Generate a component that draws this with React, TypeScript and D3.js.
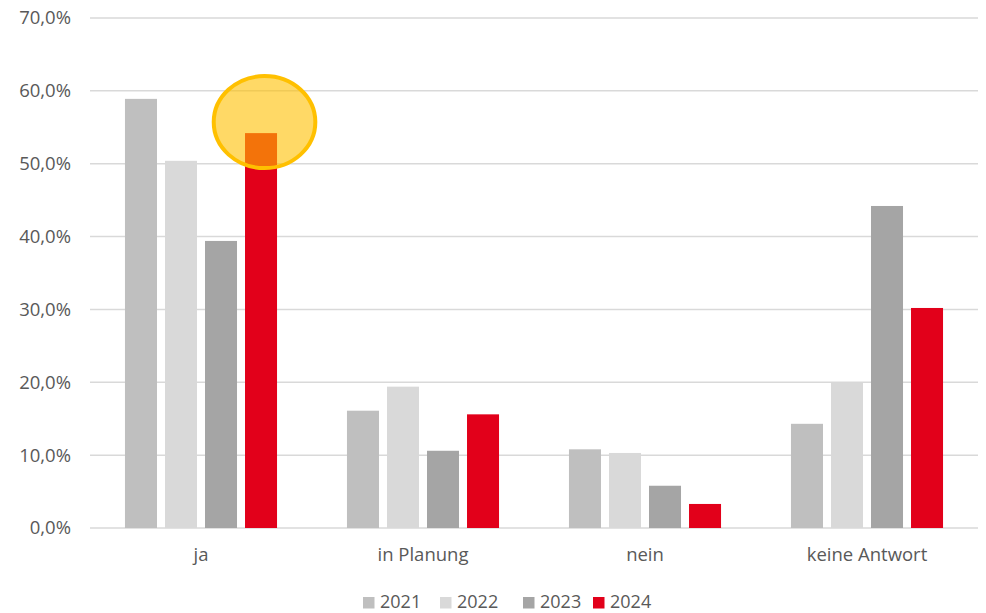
import React from "react";
import * as d3 from "d3";

const categories = ["ja", "in Planung", "nein", "keine Antwort"];
const years = ["2021", "2022", "2023", "2024"];
const values2021 = [58.9, 16.1, 10.8, 14.3];
const values2022 = [50.4, 19.4, 10.3, 20.0];
const values2023 = [39.4, 10.6, 5.8, 44.2];
const values2024 = [54.2, 15.6, 3.3, 30.2];
const yTicks = [0, 10, 20, 30, 40, 50, 60, 70];
const colors = ["#BFBFBF", "#D9D9D9", "#A5A5A5", "#E2001A"];
const series = [values2021, values2022, values2023, values2024];

const W = 986;
const H = 613;
const left = 90;
const right = 978;
const top = 18;
const bottom = 528;
const FONT = "'Open Sans', sans-serif";
const TEXT = "#595959";
const FS = 18.5;

export default function App() {
  const x0 = d3.scaleBand().domain(categories).range([left, right]).paddingInner(0.279).paddingOuter(0.1395);
  const x1 = d3.scaleBand().domain(years).range([0, x0.bandwidth()]).paddingInner(0.2).paddingOuter(0.1);
  const y = d3.scaleLinear().domain([0, 70]).range([bottom, top]);
  const fmt = (v: number) => v.toFixed(1).replace(".", ",") + "%";

  // highlight on ja 2024
  const hx = (x0("ja") as number) + (x1("2024") as number) + x1.bandwidth() / 2 + 3.5;
  const hy = y(values2024[0]) - 11;

  const legendX = [363, 440, 523, 593];

  return (
    <svg width={W} height={H} style={{ position: "absolute", left: 0, top: 0, background: "#fff" }} fontFamily={FONT}>
      {yTicks.map((t) => (
        <g key={t}>
          <line x1={left} x2={right} y1={y(t)} y2={y(t)} stroke="#D9D9D9" strokeWidth={1.5} />
          <text x={71} y={y(t)} dy="0.35em" textAnchor="end" fontSize={FS} fill={TEXT}>
            {fmt(t)}
          </text>
        </g>
      ))}
      {categories.map((c, ci) => (
        <g key={c}>
          {years.map((yr, si) => {
            const v = series[si][ci];
            return (
              <rect
                key={yr}
                x={(x0(c) as number) + (x1(yr) as number)}
                y={y(v)}
                width={x1.bandwidth()}
                height={bottom - y(v)}
                fill={colors[si]}
              />
            );
          })}
          <text x={(x0(c) as number) + x0.bandwidth() / 2} y={561} textAnchor="middle" fontSize={FS} fill={TEXT}>
            {c}
          </text>
        </g>
      ))}
      <ellipse cx={hx} cy={hy} rx={50.8} ry={46} fill="#FFC000" fillOpacity={0.6} stroke="#FFC000" strokeWidth={4} />
      {years.map((yr, i) => (
        <g key={yr}>
          <rect x={legendX[i]} y={597} width={11.5} height={11.5} fill={colors[i]} />
          <text x={legendX[i] + 17} y={601.8} dy="0.35em" fontSize={18} fill={TEXT}>
            {yr}
          </text>
        </g>
      ))}
    </svg>
  );
}
